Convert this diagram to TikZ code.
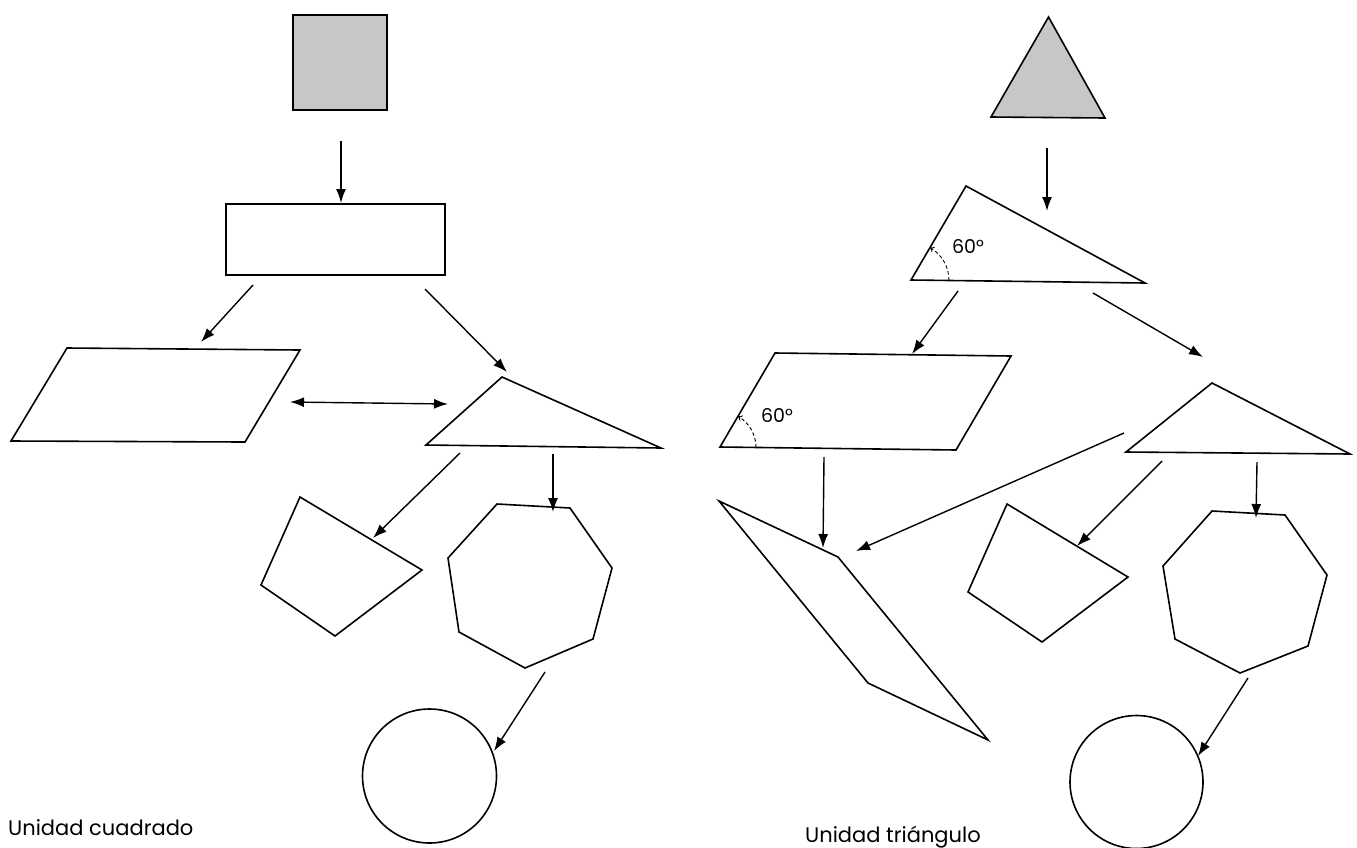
\documentclass[tikz,border=0pt]{standalone}
\usepackage{fontspec}
\setmainfont{Poppins}
\usetikzlibrary{arrows.meta}
\begin{document}
\begin{tikzpicture}[x=1pt,y=-1pt,
  shapeline/.style={draw=black,line width=1.6pt,line join=miter},
  grayfill/.style={shapeline,fill=black!22},
  conn/.style={line width=1.4pt,-{Latex[length=14pt,width=10pt]}},
  biconn/.style={line width=1.4pt,{Latex[length=14pt,width=10pt]}-{Latex[length=14pt,width=10pt]}},
  anglearc/.style={line width=0.9pt,dash pattern=on 3.5pt off 2.5pt,-{To[length=4pt,width=6pt]}},
  anglelabel/.style={font=\fontsize{19}{19}\selectfont,inner sep=0pt},
  caption/.style={font=\fontsize{21}{21}\selectfont,inner sep=0pt,anchor=base west}]
\useasboundingbox (0,0) rectangle (1357,847);

% ---------------- Left: Unidad cuadrado ----------------
\draw[grayfill] (293,15) rectangle (387,110);
\draw[shapeline] (226,204) rectangle (445,275);
\draw[shapeline] (67,348) -- (300,350) -- (245,442) -- (11,441) -- cycle;
\draw[shapeline] (502,377) -- (661,448) -- (426,445) -- cycle;
\draw[shapeline] (300,497) -- (422,570) -- (335,636) -- (261,585) -- cycle;
\draw[shapeline] (497,504) -- (570,508) -- (612,568) -- (593,639) -- (525,668) -- (459,632) -- (448,558) -- cycle;
\draw[shapeline] (429.5,776) circle[radius=67];

\coordinate (a1s) at (341,141);  \coordinate (a1e) at (341,203);
\coordinate (a2s) at (253,285);  \coordinate (a2e) at (201,342);
\coordinate (a3s) at (425,289);  \coordinate (a3e) at (507,372);
\coordinate (a4s) at (290,402);  \coordinate (a4e) at (448,404);
\coordinate (a5s) at (460,453);  \coordinate (a5e) at (373,538);
\coordinate (a6s) at (553,454);  \coordinate (a6e) at (553,512);
\coordinate (a7s) at (545,672);  \coordinate (a7e) at (494,751);
\draw[conn] (a1s) -- (a1e);
\draw[conn] (a2s) -- (a2e);
\draw[conn] (a3s) -- (a3e);
\draw[biconn] (a4s) -- (a4e);
\draw[conn] (a5s) -- (a5e);
\draw[conn] (a6s) -- (a6e);
\draw[conn] (a7s) -- (a7e);

\node[caption] (capL) at (8,835) {Unidad cuadrado};

% ---------------- Right: Unidad triangulo ----------------
\draw[grayfill] (1048.5,17) -- (1105,118) -- (991,117) -- cycle;
\draw[shapeline] (966,186) -- (1145,283) -- (911,280) -- cycle;
\draw[anglearc] (949,280.5) arc[start angle=0,end angle=-60,radius=38];
\node[anglelabel] (lab1) at (968,247) {60°};

\draw[shapeline] (775,353) -- (1011,356) -- (956,450) -- (720,447) -- cycle;
\draw[anglearc] (756,447.5) arc[start angle=0,end angle=-60,radius=36];
\node[anglelabel] (lab2) at (777,415) {60°};

\draw[shapeline] (1212,383) -- (1350,454) -- (1126,452) -- cycle;
\draw[shapeline] (719,501) -- (838,557) -- (988,740) -- (868,683) -- cycle;
\draw[shapeline] (1007,504) -- (1128,577) -- (1042,642) -- (968,592) -- cycle;
\draw[shapeline] (1212,511) -- (1285,515) -- (1327,575) -- (1308,646) -- (1240,673) -- (1175,639) -- (1163,566) -- cycle;
\draw[shapeline] (1136.5,782) circle[radius=66.5];

\coordinate (b1s) at (1047,148);  \coordinate (b1e) at (1047,211);
\coordinate (b2s) at (958,291);   \coordinate (b2e) at (912,354);
\coordinate (b3s) at (1093,293);  \coordinate (b3e) at (1203,357);
\coordinate (b4s) at (824,457);   \coordinate (b4e) at (823,548);
\coordinate (b5s) at (1124,433);  \coordinate (b5e) at (856,551);
\coordinate (b6s) at (1162,461);  \coordinate (b6e) at (1077,546);
\coordinate (b7s) at (1257,462);  \coordinate (b7e) at (1256,518);
\coordinate (b8s) at (1248,678);  \coordinate (b8e) at (1198,756);
\draw[conn] (b1s) -- (b1e);
\draw[conn] (b2s) -- (b2e);
\draw[conn] (b3s) -- (b3e);
\draw[conn] (b4s) -- (b4e);
\draw[conn] (b5s) -- (b5e);
\draw[conn] (b6s) -- (b6e);
\draw[conn] (b7s) -- (b7e);
\draw[conn] (b8s) -- (b8e);

\node[caption] (capR) at (805,842) {Unidad triángulo};
\end{tikzpicture}
\end{document}
